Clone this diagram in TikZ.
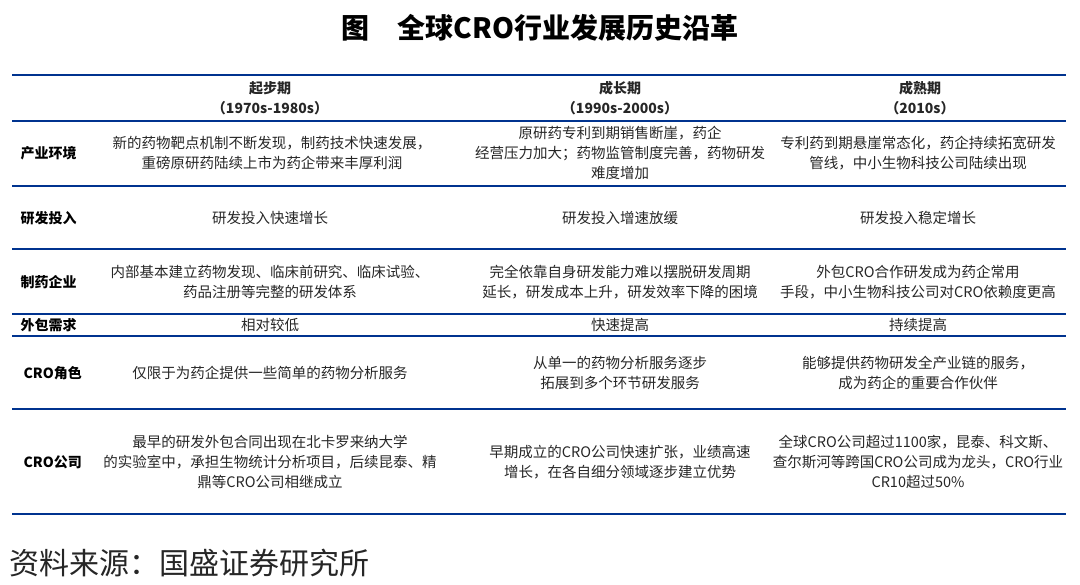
\documentclass[tikz,border=0pt]{standalone}
\usepackage{fontspec}
\setmainfont{Noto Sans CJK SC}
\begin{document}
\begin{tikzpicture}[x=1pt,y=-1pt,
  cell/.style={align=center,font=\fontsize{14.5}{20}\selectfont,text=black!85},
  lab/.style={anchor=west,font=\fontsize{14}{20}\selectfont\bfseries,text=black},
  rule/.style={draw=blue!45!black!80!cyan,line width=1.6pt}]
\useasboundingbox (0,0) rectangle (1080,585);
\node (title) at (540,28) {\fontsize{28}{30}\selectfont\bfseries 图\quad 全球CRO行业发展历史沿革};
\foreach \yy/\n in {121/a,186/b,249/c,314/d,336/e,409/f} \draw[rule] (12,\yy) -- (1066,\yy);
\draw[rule,line width=2.4pt] (12,75) -- (1066,75);
\draw[rule,line width=2.2pt] (12,514) -- (1066,514);
\node[cell,font=\fontsize{14}{20}\selectfont\bfseries] (h1) at (270,98) {起步期\\（1970s-1980s）};
\node[cell,font=\fontsize{14}{20}\selectfont\bfseries] (h2) at (620,98) {成长期\\（1990s-2000s）};
\node[cell,font=\fontsize{14}{20}\selectfont\bfseries] (h3) at (920,98) {成熟期\\（2010s）};
\node[lab] (l1) at (17,153) {产业环境};
\node[lab] (l2) at (17,218) {研发投入};
\node[lab] (l3) at (17,282) {制药企业};
\node[lab] (l4) at (17,325) {外包需求};
\node[lab] (l5) at (20,373) {CRO角色};
\node[lab] (l6) at (20,462) {CRO公司};
\node[cell] (a1) at (272,153) {新的药物靶点机制不断发现，制药技术快速发展，\\重磅原研药陆续上市为药企带来丰厚利润};
\node[cell] (a2) at (620,153) {原研药专利到期销售断崖，药企\\经营压力加大；药物监管制度完善，药物研发\\难度增加};
\node[cell] (a3) at (918,153) {专利药到期悬崖常态化，药企持续拓宽研发\\管线，中小生物科技公司陆续出现};
\node[cell] (b1) at (270,218) {研发投入快速增长};
\node[cell] (b2) at (620,218) {研发投入增速放缓};
\node[cell] (b3) at (918,218) {研发投入稳定增长};
\node[cell] (c1) at (270,282) {内部基本建立药物发现、临床前研究、临床试验、\\药品注册等完整的研发体系};
\node[cell] (c2) at (620,282) {完全依靠自身研发能力难以摆脱研发周期\\延长，研发成本上升，研发效率下降的困境};
\node[cell] (c3) at (918,282) {外包CRO合作研发成为药企常用\\手段，中小生物科技公司对CRO依赖度更高};
\node[cell] (d1) at (270,325) {相对较低};
\node[cell] (d2) at (620,325) {快速提高};
\node[cell] (d3) at (918,325) {持续提高};
\node[cell] (e1) at (270,373) {仅限于为药企提供一些简单的药物分析服务};
\node[cell] (e2) at (620,373) {从单一的药物分析服务逐步\\拓展到多个环节研发服务};
\node[cell] (e3) at (918,373) {能够提供药物研发全产业链的服务，\\成为药企的重要合作伙伴};
\node[cell] (f1) at (270,462) {最早的研发外包合同出现在北卡罗来纳大学\\的实验室中，承担生物统计分析项目，后续昆泰、精\\鼎等CRO公司相继成立};
\node[cell] (f2) at (620,462) {早期成立的CRO公司快速扩张，业绩高速\\增长，在各自细分领域逐步建立优势};
\node[cell] (f3) at (918,462) {全球CRO公司超过1100家，昆泰、科文斯、\\查尔斯河等跨国CRO公司成为龙头，CRO行业\\CR10超过50\%};
\node[anchor=west,font=\fontsize{30}{32}\selectfont,text=black!85] (src) at (6,563) {资料来源：国盛证券研究所};
\end{tikzpicture}
\end{document}
